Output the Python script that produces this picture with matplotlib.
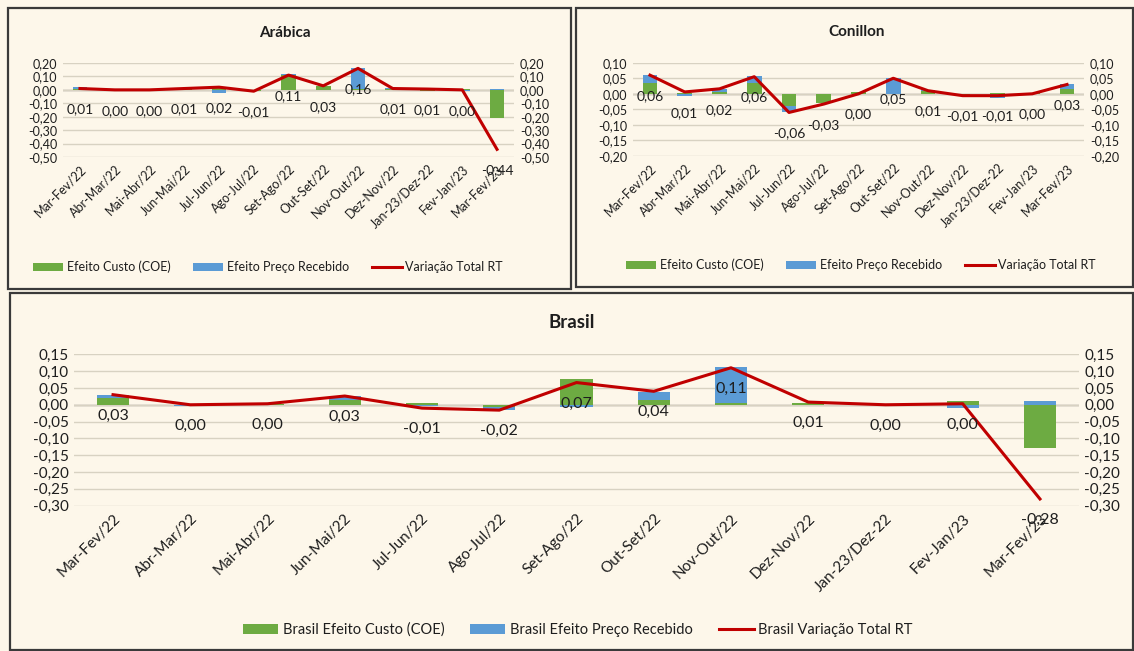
import matplotlib
matplotlib.use("Agg")
import matplotlib.pyplot as plt
from matplotlib.patches import Rectangle, Patch
from matplotlib.lines import Line2D
import numpy as np

plt.rcParams["font.family"] = ["Lato", "DejaVu Sans"]

CATEGORIES = [
    "Mar-Fev/22", "Abr-Mar/22", "Mai-Abr/22", "Jun-Mai/22", "Jul-Jun/22",
    "Ago-Jul/22", "Set-Ago/22", "Out-Set/22", "Nov-Out/22", "Dez-Nov/22",
    "Jan-23/Dez-22", "Fev-Jan/23", "Mar-Fev/23",
]

# Arábica
arabica_custo = [0.01, 0.0, 0.0, 0.005, 0.02, -0.005, 0.11, 0.03, 0.01, 0.005, -0.01, 0.005, -0.21]
arabica_preco = [0.01, 0.0, 0.0, 0.005, -0.02, -0.005, 0.005, 0.0, 0.15, 0.01, 0.005, -0.01, 0.01]
arabica_total = [0.01, 0.0, 0.0, 0.01, 0.02, -0.01, 0.11, 0.03, 0.16, 0.01, 0.006, 0.0, -0.443]

# Conillon
conillon_custo = [0.035, 0.003, 0.005, 0.035, -0.038, -0.03, 0.005, 0.0, 0.01, -0.005, 0.003, 0.002, 0.015]
conillon_preco = [0.025, -0.007, 0.012, 0.022, -0.022, 0.0, 0.0, 0.05, 0.003, -0.003, -0.012, 0.0, 0.018]
conillon_total = [0.06, 0.006, 0.016, 0.055, -0.06, -0.033, 0.0, 0.05, 0.01, -0.006, -0.006, 0.0, 0.03]

# Brasil
brasil_custo = [0.02, 0.0, 0.003, 0.015, 0.004, -0.008, 0.077, 0.015, 0.005, 0.005, 0.0, 0.01, -0.128]
brasil_preco = [0.01, -0.003, -0.002, 0.01, -0.003, -0.007, -0.008, 0.023, 0.106, -0.002, 0.0, -0.01, 0.01]
brasil_total = [0.03, 0.0, 0.003, 0.026, -0.01, -0.016, 0.066, 0.04, 0.11, 0.008, 0.0, 0.003, -0.28]

BG = "#FDF7EA"
GREEN = "#6DAB42"
BLUE = "#5B9BD5"
RED = "#C00000"
GRID = "#D8D2C2"
TXT = "#1E1E1E"

W, H = 1134, 651


def rect(x0, y0, x1, y1):
    return [x0 / W, 1 - y1 / H, (x1 - x0) / W, (y1 - y0) / H]


def fmt(v):
    s = f"{v:.2f}".replace(".", ",")
    return "0,00" if s == "-0,00" else s


def draw_panel(fig, box, area, title, title_xy, title_size, custo, preco, total,
               ylim, step, tick_fs, label_fs, legend_names, legend_xy, legend_fs):
    fig.add_artist(Rectangle((box[0] / W, 1 - box[3] / H), (box[2] - box[0]) / W,
                             (box[3] - box[1]) / H, transform=fig.transFigure,
                             facecolor="none", edgecolor="#3A3A3A", linewidth=1.6))
    fig.text(title_xy[0] / W, 1 - title_xy[1] / H, title, ha="center", va="center",
             fontsize=title_size, fontweight="bold", color=TXT)

    ax = fig.add_axes(rect(*area))
    ax.set_facecolor("none")
    x = np.arange(len(CATEGORIES))
    custo = np.array(custo)
    preco = np.array(preco)
    # excel style stacking: positives up, negatives down
    bottom_preco = np.where(preco >= 0, np.maximum(custo, 0), np.minimum(custo, 0))
    ax.bar(x, custo, width=0.42, color=GREEN, zorder=2)
    ax.bar(x, preco, bottom=bottom_preco, width=0.42, color=BLUE, zorder=2)
    ax.plot(x, total, color=RED, linewidth=2.2, zorder=3)
    for xi, v in zip(x, total):
        ax.annotate(fmt(v), (xi, v), xytext=(0, -15), textcoords="offset points",
                    ha="center", va="center", fontsize=label_fs, color=TXT, zorder=4)

    ticks = np.arange(ylim[0], ylim[1] + step / 2, step)
    ax.set_ylim(ylim)
    ax.set_xlim(-0.5, len(CATEGORIES) - 0.5)
    ax.set_yticks(ticks)
    ax.set_yticklabels([fmt(t) for t in ticks], fontsize=tick_fs, color=TXT)
    ax.grid(axis="y", color=GRID, linewidth=1, zorder=0)
    ax.axhline(0, color="#8E8E8E", linewidth=1, zorder=1)
    ax.set_xticks(x)
    ax.set_xticklabels(CATEGORIES, rotation=45, ha="right", rotation_mode="anchor",
                       fontsize=tick_fs, color=TXT)
    ax.tick_params(length=0, pad=4)
    for s in ax.spines.values():
        s.set_visible(False)

    ax2 = ax.twinx()
    ax2.set_ylim(ylim)
    ax2.set_yticks(ticks)
    ax2.set_yticklabels([fmt(t) for t in ticks], fontsize=tick_fs, color=TXT)
    ax2.tick_params(length=0, pad=4)
    for s in ax2.spines.values():
        s.set_visible(False)

    handles = [
        Patch(facecolor=GREEN, label=legend_names[0]),
        Patch(facecolor=BLUE, label=legend_names[1]),
        Line2D([], [], color=RED, linewidth=2.2, label=legend_names[2]),
    ]
    fig.legend(handles=handles, loc="center", ncol=3, frameon=False,
               bbox_to_anchor=(legend_xy[0] / W, 1 - legend_xy[1] / H),
               fontsize=legend_fs, handlelength=2.4, handleheight=0.6,
               handletextpad=0.3, columnspacing=1.8, labelcolor=TXT)


fig = plt.figure(figsize=(W / 100, H / 100), dpi=100)
fig.patch.set_facecolor(BG)

names = ["Efeito Custo (COE)", "Efeito Preço Recebido", "Variação Total RT"]

draw_panel(fig, (8, 8, 571, 289), (62.6, 63, 514.4, 157), "Arábica", (285, 33), 11,
           arabica_custo, arabica_preco, arabica_total, (-0.5, 0.2), 0.1,
           9, 10, names, (268, 267), 9)

draw_panel(fig, (576, 8, 1133, 287), (632.6, 62.7, 1084.4, 156), "Conillon", (857, 32), 11,
           conillon_custo, conillon_preco, conillon_total, (-0.2, 0.1), 0.05,
           9, 10, names, (861, 265), 9)

draw_panel(fig, (10, 293, 1133, 650), (74.4, 354.3, 1078.6, 505.7), "Brasil", (572, 322), 13.5,
           brasil_custo, brasil_preco, brasil_total, (-0.3, 0.15), 0.05,
           11, 11.5, ["Brasil " + n for n in names], (578, 630), 10.5)

fig.savefig("out.png", dpi=100, facecolor=BG)
